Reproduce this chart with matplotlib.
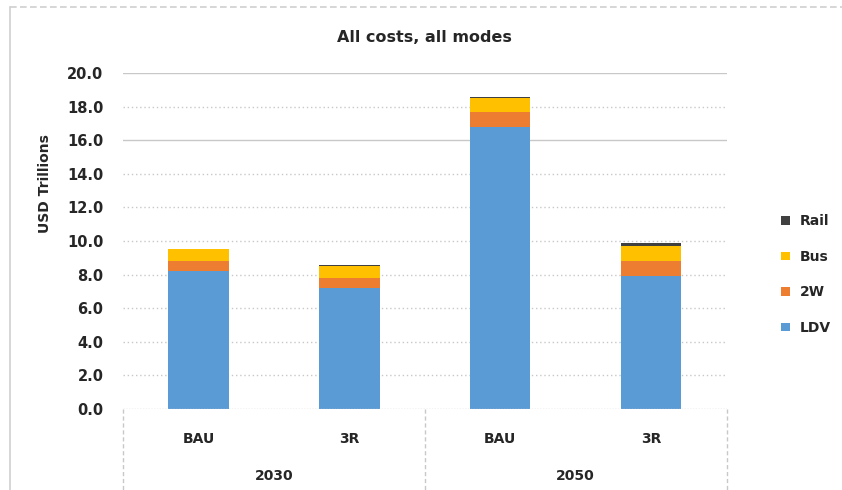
import matplotlib
matplotlib.use("Agg")
import matplotlib.pyplot as plt
import numpy as np
from matplotlib.lines import Line2D

plt.rcParams['font.family'] = ['DejaVu Sans']

# data
scenarios = ['BAU', '3R', 'BAU', '3R']
years = ['2030', '2050']
modes = ['LDV', '2W', 'Bus', 'Rail']
ldv = [8.2, 7.2, 16.8, 7.9]
two_w = [0.6, 0.6, 0.9, 0.9]
bus = [0.7, 0.7, 0.8, 0.9]
rail = [0.05, 0.1, 0.1, 0.2]
colors = ['#5B9BD5', '#ED7D31', '#FFC000', '#404040']

fig = plt.figure(figsize=(8.42, 4.90), dpi=100)
ax = fig.add_axes([0.146, 0.1653, 0.717, 0.6857])

x = np.arange(len(scenarios))
bottom = np.zeros(len(scenarios))
handles = []
for name, vals, c in zip(modes, [ldv, two_w, bus, rail], colors):
    b = ax.bar(x, vals, 0.4, bottom=bottom, color=c, label=name, zorder=3)
    handles.append(b)
    bottom += np.array(vals)

ax.set_xlim(-0.5, 3.5)
ax.set_ylim(0, 20)
ax.set_yticks(np.arange(0, 20.1, 2))
ax.set_yticklabels(['%.1f' % v for v in np.arange(0, 20.1, 2)],
                   fontsize=10.5, fontweight='bold', color='#262626')
ax.tick_params(axis='y', length=0, pad=14)
ax.set_xticks([])

for v in np.arange(2, 20.1, 2):
    ls = '-' if v in (16, 20) else (0, (1, 2))
    ax.axhline(v, color='#c8c8c8', lw=1, ls=ls, zorder=1)
ax.axhline(0, color='#c8c8c8', lw=1, ls=(0, (1, 1)), zorder=4)

for s in ax.spines.values():
    s.set_visible(False)

ax.set_ylabel('USD Trillions', fontsize=10, fontweight='bold', color='#262626')
ax.yaxis.set_label_coords(-0.118, 0.67)
ax.set_title('All costs, all modes', fontsize=11.5, fontweight='bold', color='#262626', pad=22)

# two-level category axis
tr = ax.get_xaxis_transform()
for i, s in enumerate(scenarios):
    ax.text(i, -0.088, s, transform=tr, ha='center', va='center',
            fontsize=10, fontweight='bold', color='#262626')
for j, y in enumerate(years):
    ax.text(2 * j + 0.5, -0.2, y, transform=tr, ha='center', va='center',
            fontsize=10, fontweight='bold', color='#262626')
for xv in [-0.5, 1.5, 3.5]:
    ax.plot([xv, xv], [0, -0.25], transform=tr, color='#c8c8c8', lw=1,
            ls=(0, (3, 2)), clip_on=False)

leg = ax.legend(handles[::-1], modes[::-1], loc='center left', bbox_to_anchor=(1.07, 0.40),
                frameon=False, fontsize=10, handlelength=0.6, handleheight=0.6,
                labelspacing=1.55, handletextpad=0.7)
for t in leg.get_texts():
    t.set_fontweight('bold')
    t.set_color('#262626')

# chart frame: dashed top edge, solid left edge
fig.add_artist(Line2D([0.012, 1.0], [0.985, 0.985], transform=fig.transFigure,
                      color='#d0d0d0', lw=1.2, ls=(0, (4, 2))))
fig.add_artist(Line2D([0.012, 0.012], [0.0, 0.985], transform=fig.transFigure,
                      color='#d0d0d0', lw=1.2))

fig.savefig('out.png', dpi=100)
